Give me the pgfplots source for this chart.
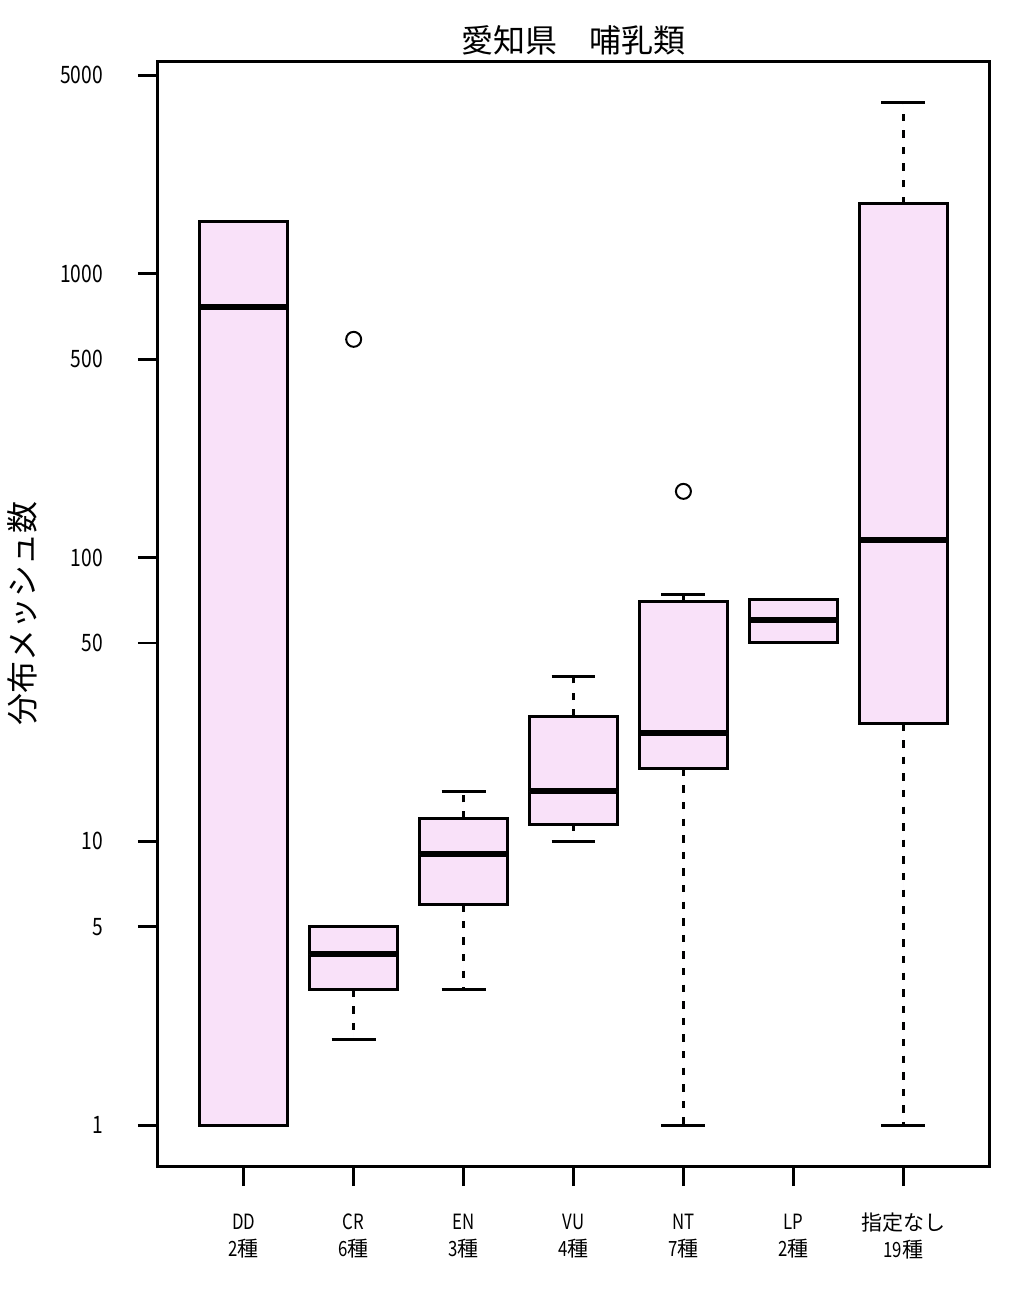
\documentclass[border=0pt]{standalone}
\usepackage{fontspec}
\setmainfont{Noto Sans CJK JP}
\newfontfamily\numfont{Noto Sans CJK JP}[FakeStretch=0.8]
\newcommand{\nf}[1]{{\numfont #1}}
\usepackage{pgfplots}
\usepgfplotslibrary{statistics}
\pgfplotsset{compat=1.18}
\definecolor{boxfill}{RGB}{249,225,249}

\begin{document}
\begin{tikzpicture}
% y axis in log10 units (values: log10 of distribution mesh counts)
\begin{axis}[
  scale only axis, width=415.5pt, height=552pt,
  xmin=0.22, xmax=7.78, ymin=-0.1439, ymax=3.7458,
  axis line style={line width=1.5pt},
  xtick={1,2,3,4,5,6,7},
  xticklabels={\nf{DD}\\\nf{2}種, \nf{CR}\\\nf{6}種, \nf{EN}\\\nf{3}種, \nf{VU}\\\nf{4}種, \nf{NT}\\\nf{7}種, \nf{LP}\\\nf{2}種, 指定なし\\\nf{19}種},
  xticklabel style={align=center, font=\fontsize{10.5}{13.5}\selectfont, anchor=center, yshift=-25pt},
  ytick={0,0.69897,1,1.69897,2,2.69897,3,3.69897},
  yticklabels={1,5,10,50,100,500,1000,5000},
  yticklabel style={font=\numfont\fontsize{12}{14}\selectfont, anchor=east, xshift=-14pt},
  tick pos=left, tick align=outside, major tick length=10pt,
  major tick style={line width=1.4pt, black},
  title={愛知県　哺乳類},
  title style={font=\fontsize{16}{18}\selectfont, at={(axis description cs:0.5,1)}, anchor=center, yshift=5pt},
  ylabel={分布メッシュ数},
  ylabel style={font=\fontsize{16}{18}\selectfont, at={(axis description cs:-0.1637,0.5)}, anchor=center},
  boxplot/draw direction=y,
  boxplot/box extend=0.8, boxplot/whisker extend=0.4,
  boxplot/draw/median/.code={\draw[line width=3pt, solid] (boxplot box cs:\pgfplotsboxplotvalue{median},0) -- (boxplot box cs:\pgfplotsboxplotvalue{median},1);},
  boxplot/draw/lower whisker/.code={%
    \draw[line width=1.4pt, dash pattern=on 3.7pt off 4.6pt] (boxplot box cs:\pgfplotsboxplotvalue{lower quartile},0.5) -- (boxplot box cs:\pgfplotsboxplotvalue{lower whisker},0.5);
    \draw[line width=1.5pt, solid] (boxplot whisker cs:\pgfplotsboxplotvalue{lower whisker},0) -- (boxplot whisker cs:\pgfplotsboxplotvalue{lower whisker},1);},
  boxplot/draw/upper whisker/.code={%
    \draw[line width=1.4pt, dash pattern=on 3.7pt off 4.6pt] (boxplot box cs:\pgfplotsboxplotvalue{upper quartile},0.5) -- (boxplot box cs:\pgfplotsboxplotvalue{upper whisker},0.5);
    \draw[line width=1.5pt, solid] (boxplot whisker cs:\pgfplotsboxplotvalue{upper whisker},0) -- (boxplot whisker cs:\pgfplotsboxplotvalue{upper whisker},1);},
  every axis plot/.append style={draw=black, fill=boxfill, line width=1.5pt, mark=o, mark size=3.75pt, mark options={fill=none, draw=black, line width=1pt, solid}},
]
% DD: 1, 765, 1525
\addplot[boxplot prepared={draw position=1, lower whisker=0, lower quartile=0, median=2.8837, upper quartile=3.1833, upper whisker=3.1833}] coordinates {};
% CR: 2, 3, 4, 5, 5; outlier 587
\addplot[boxplot prepared={draw position=2, lower whisker=0.30103, lower quartile=0.47712, median=0.60206, upper quartile=0.69897, upper whisker=0.69897}] table[row sep=\\, y index=0] {2.7686\\};
% EN: 3, 6, 9, 12, 15
\addplot[boxplot prepared={draw position=3, lower whisker=0.47712, lower quartile=0.77815, median=0.95424, upper quartile=1.07918, upper whisker=1.17609}] coordinates {};
% VU: 10, 11.5, 15, 27.5, 38
\addplot[boxplot prepared={draw position=4, lower whisker=1, lower quartile=1.06070, median=1.17609, upper quartile=1.43933, upper whisker=1.57978}] coordinates {};
% NT: 1, 18, 24, 70, 74; outlier 171
\addplot[boxplot prepared={draw position=5, lower whisker=0, lower quartile=1.25527, median=1.38021, upper quartile=1.84510, upper whisker=1.86923}] table[row sep=\\, y index=0] {2.23300\\};
% LP: 50, 60, 71
\addplot[boxplot prepared={draw position=6, lower whisker=1.69897, lower quartile=1.69897, median=1.77815, upper quartile=1.85126, upper whisker=1.85126}] coordinates {};
% none: 1, 26, 115, 1760, 4000
\addplot[boxplot prepared={draw position=7, lower whisker=0, lower quartile=1.41497, median=2.06070, upper quartile=3.24551, upper whisker=3.60206}] coordinates {};
\coordinate (sw) at (rel axis cs:0,0);
\coordinate (ne) at (rel axis cs:1,1);
\end{axis}
\pgfresetboundingbox
\path[use as bounding box] ([xshift=-79pt,yshift=-64pt]sw) rectangle ([xshift=12.5pt,yshift=31pt]ne);
\end{tikzpicture}
\end{document}
